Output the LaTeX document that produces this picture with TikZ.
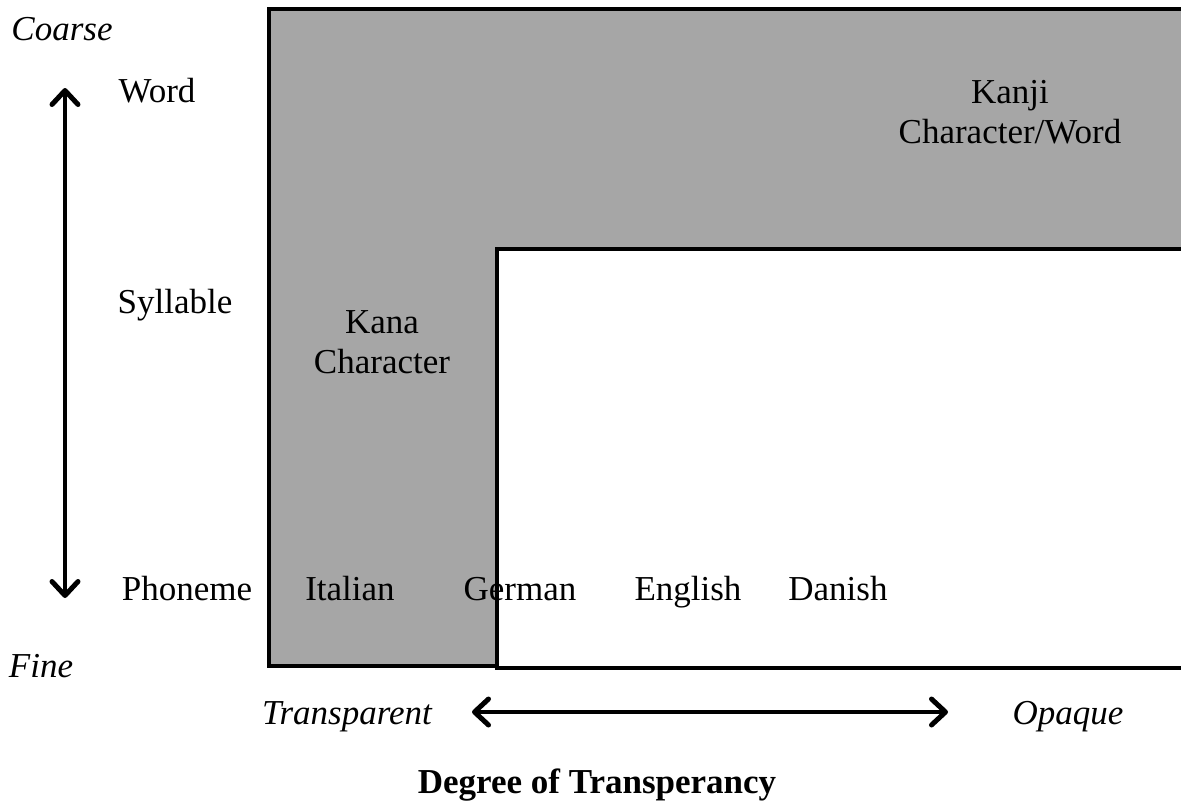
\documentclass[tikz,border=0pt]{standalone}
\usepackage{fontspec}
\setmainfont{Liberation Serif}
\usetikzlibrary{arrows.meta}
\tikzset{
  lbl/.style={anchor=base, inner sep=0pt, font=\fontsize{35}{40}\selectfont},
  ilbl/.style={lbl, font=\fontsize{35}{40}\selectfont\itshape},
  box/.style={line width=4pt},
  barb/.tip={Straight Barb[length=14pt,width=26pt,line width=5pt,round]},
  axis/.style={line width=4.5pt, barb-barb}
}
\begin{document}
\begin{tikzpicture}[x=1pt,y=-1pt]
\useasboundingbox (0,0) rectangle (1181,807);
\begin{scope}
\clip (0,0) rectangle (1181,807);
% coarse-grain, opaque region
\draw[box, fill={rgb,255:red,166;green,166;blue,166}] (269,9) rectangle (1220,666);
% fine-grain, opaque region
\draw[box, fill=white] (497,249) rectangle (1220,668);
\end{scope}
% grain-size axis
\node[ilbl] (coarse) at (62,40) {Coarse};
\node[ilbl] (fine) at (41,677) {Fine};
\coordinate (up) at (65,88);
\coordinate (down) at (65,598);
\draw[axis] (down) -- (up);
\node[lbl] (word) at (157,102) {Word};
\node[lbl] (syll) at (175,313) {Syllable};
\node[lbl] (phon) at (187,600) {Phoneme};
% writing systems (base anchor sits on the last line)
\node[lbl, align=center] (kanji) at (1010,143) {Kanji\\Character/Word};
\node[lbl, align=center] (kana) at (382,373) {Kana\\Character};
\node[lbl] (ita) at (350,600) {Italian};
\node[lbl] (ger) at (520,600) {German};
\node[lbl] (eng) at (688,600) {English};
\node[lbl] (dan) at (838,600) {Danish};
% transparency axis
\node[ilbl] (transp) at (347,724) {Transparent};
\node[ilbl] (opaque) at (1068,724) {Opaque};
\coordinate (left) at (472,712);
\coordinate (right) at (948,712);
\draw[axis] (left) -- (right);
\node[lbl, font=\fontsize{35}{40}\selectfont\bfseries] (title) at (597,793) {Degree of Transperancy};
\end{tikzpicture}
\end{document}
